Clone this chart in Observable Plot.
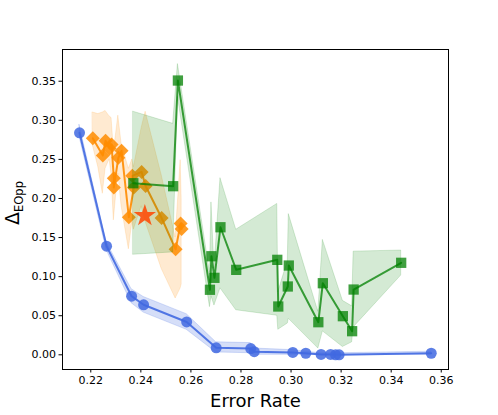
<!DOCTYPE html>
<html>
<head>
<meta charset="utf-8">
<script src="https://cdn.jsdelivr.net/npm/d3@7"></script>
<script src="https://cdn.jsdelivr.net/npm/@observablehq/plot@0.6"></script>
<style>
  html, body { margin: 0; padding: 0; background: white; }
</style>
</head>
<body>
<div id="chart"></div>
<script>
// ---- Blue series (circles) ----
const blueX  = [0.2155, 0.2263, 0.2363, 0.2411, 0.2583, 0.2701, 0.2839, 0.2853, 0.3007, 0.3059, 0.3120, 0.3158, 0.3178, 0.3192, 0.3560];
const blueY  = [0.284, 0.139, 0.075, 0.064, 0.042, 0.009, 0.008, 0.004, 0.003, 0.002, 0.0005, 0.0005, 0.0, 0.0, 0.002];
const blueLo = [0.279, 0.134, 0.066, 0.054, 0.032, 0.003, 0.002, 0.000, 0.000, 0.000, 0.000, 0.000, 0.000, 0.000, 0.000];
const blueHi = [0.294, 0.144, 0.084, 0.074, 0.052, 0.016, 0.015, 0.008, 0.006, 0.004, 0.002, 0.002, 0.002, 0.002, 0.004];

// ---- Orange series (diamonds), in drawing order ----
const orangeX = [0.2208, 0.2248, 0.2259, 0.2275, 0.2283, 0.2292, 0.2292, 0.2310, 0.2323, 0.2352, 0.2372, 0.2366, 0.2403, 0.2419, 0.2483, 0.2539, 0.2559, 0.2563];
const orangeY = [0.277, 0.255, 0.274, 0.264, 0.269, 0.226, 0.214, 0.252, 0.261, 0.176, 0.214, 0.229, 0.234, 0.216, 0.175, 0.135, 0.168, 0.161];
// orange uncertainty band (sorted by x)
const orangeBandX  = [0.2208, 0.2230, 0.2248, 0.2259, 0.2275, 0.2283, 0.2292, 0.2300, 0.2310, 0.2323, 0.2352, 0.2366, 0.2372, 0.2403, 0.2419, 0.2483, 0.2539, 0.2559, 0.2563];
const orangeBandLo = [0.268, 0.240, 0.206, 0.238, 0.250, 0.230, 0.172, 0.200, 0.232, 0.190, 0.135, 0.170, 0.160, 0.190, 0.170, 0.110, 0.072, 0.085, 0.090];
const orangeBandHi = [0.310, 0.308, 0.310, 0.312, 0.305, 0.303, 0.262, 0.280, 0.306, 0.270, 0.238, 0.250, 0.240, 0.290, 0.311, 0.230, 0.150, 0.249, 0.200];

// ---- Green series (squares), sorted by x ----
const greenX  = [0.2370, 0.2529, 0.2548, 0.2676, 0.2682, 0.2694, 0.2718, 0.2781, 0.2945, 0.2949, 0.2987, 0.2991, 0.3109, 0.3127, 0.3207, 0.3244, 0.3250, 0.3440];
const greenY  = [0.2195, 0.2157, 0.3509, 0.0832, 0.1261, 0.0985, 0.1632, 0.1087, 0.1215, 0.0618, 0.0874, 0.1142, 0.0417, 0.0916, 0.0494, 0.0302, 0.0835, 0.1177];
const greenLo = [0.128, 0.131, 0.330, 0.061, 0.075, 0.063, 0.085, 0.057, 0.050, 0.032, 0.040, 0.046, 0.008, 0.030, 0.010, 0.016, 0.035, 0.1014];
const greenHi = [0.311, 0.2955, 0.372, 0.105, 0.195, 0.110, 0.226, 0.160, 0.193, 0.080, 0.120, 0.180, 0.055, 0.147, 0.069, 0.062, 0.132, 0.1334];

// ---- Star ----
const starX = [0.2416];
const starY = [0.178];

// ---- Ticks ----
const xTicks = [0.22, 0.24, 0.26, 0.28, 0.30, 0.32, 0.34, 0.36];
const yTicks = [0.00, 0.05, 0.10, 0.15, 0.20, 0.25, 0.30, 0.35];

const blue = blueX.map((x, i) => ({x, y: blueY[i], lo: blueLo[i], hi: blueHi[i]}));
const orange = orangeX.map((x, i) => ({x, y: orangeY[i]}));
const orangeBand = orangeBandX.map((x, i) => ({x, lo: orangeBandLo[i], hi: orangeBandHi[i]}));
const green = greenX.map((x, i) => ({x, y: greenY[i], lo: greenLo[i], hi: greenHi[i]}));
const star = starX.map((x, i) => ({x, y: starY[i]}));

const fmt = d3.format(".2f");

const chart = Plot.plot({
  width: 498,
  height: 415,
  marginLeft: 62,
  marginRight: 50,
  marginTop: 49,
  marginBottom: 46,
  style: {fontFamily: "DejaVu Sans", fontSize: "11px", background: "white", color: "black"},
  x: {domain: [0.2087, 0.3629]},
  y: {domain: [-0.0188, 0.3906]},
  marks: [
    // blue
    Plot.areaY(blue, {x: "x", y1: "lo", y2: "hi", fill: "royalblue", fillOpacity: 0.22, stroke: "royalblue", strokeOpacity: 0.2, strokeWidth: 1}),
    Plot.line(blue, {x: "x", y: "y", stroke: "royalblue", strokeWidth: 2, strokeOpacity: 0.9}),
    Plot.dot(blue, {x: "x", y: "y", r: 5.5, fill: "royalblue", fillOpacity: 0.85, stroke: "none"}),
    // orange
    Plot.areaY(orangeBand, {x: "x", y1: "lo", y2: "hi", fill: "darkorange", fillOpacity: 0.18, stroke: "darkorange", strokeOpacity: 0.15, strokeWidth: 1}),
    Plot.line(orange, {x: "x", y: "y", stroke: "darkorange", strokeWidth: 2, strokeOpacity: 0.9}),
    Plot.dot(orange, {x: "x", y: "y", symbol: "diamond2", r: 6.3, fill: "darkorange", fillOpacity: 0.85, stroke: "none"}),
    // green
    Plot.areaY(green, {x: "x", y1: "lo", y2: "hi", fill: "green", fillOpacity: 0.17, stroke: "green", strokeOpacity: 0.15, strokeWidth: 1}),
    Plot.line(green, {x: "x", y: "y", stroke: "green", strokeWidth: 2, strokeOpacity: 0.75}),
    Plot.dot(green, {x: "x", y: "y", symbol: "square", r: 5.8, fill: "green", fillOpacity: 0.75, stroke: "none"}),
    // star
    Plot.dot(star, {x: "x", y: "y", symbol: "star", r: 7, fill: "orangered", fillOpacity: 0.85, stroke: "none"}),
    // frame & axes
    Plot.frame({stroke: "black", strokeWidth: 1}),
    Plot.axisX({ticks: xTicks, tickFormat: fmt, tickSize: 3.5, tickPadding: 3, label: null, fontSize: 11}),
    Plot.axisY({ticks: yTicks, tickFormat: fmt, tickSize: 3.5, tickPadding: 3, label: null, fontSize: 11}),
    Plot.text(["Error Rate"], {frameAnchor: "bottom", dy: 37, fontSize: 18, text: d => d, fill: "black"})
  ]
});

// y-axis label with subscript
const svg = d3.select(chart);
const yl = svg.append("text")
  .attr("transform", "translate(19,203) rotate(-90)")
  .attr("text-anchor", "middle")
  .attr("font-family", "DejaVu Sans")
  .attr("font-size", 19)
  .attr("fill", "black");
yl.append("tspan").text("Δ");
yl.append("tspan").attr("font-size", 11.5).attr("dy", 4).text("EOpp");

document.getElementById("chart").appendChild(chart);
</script>
</body>
</html>
